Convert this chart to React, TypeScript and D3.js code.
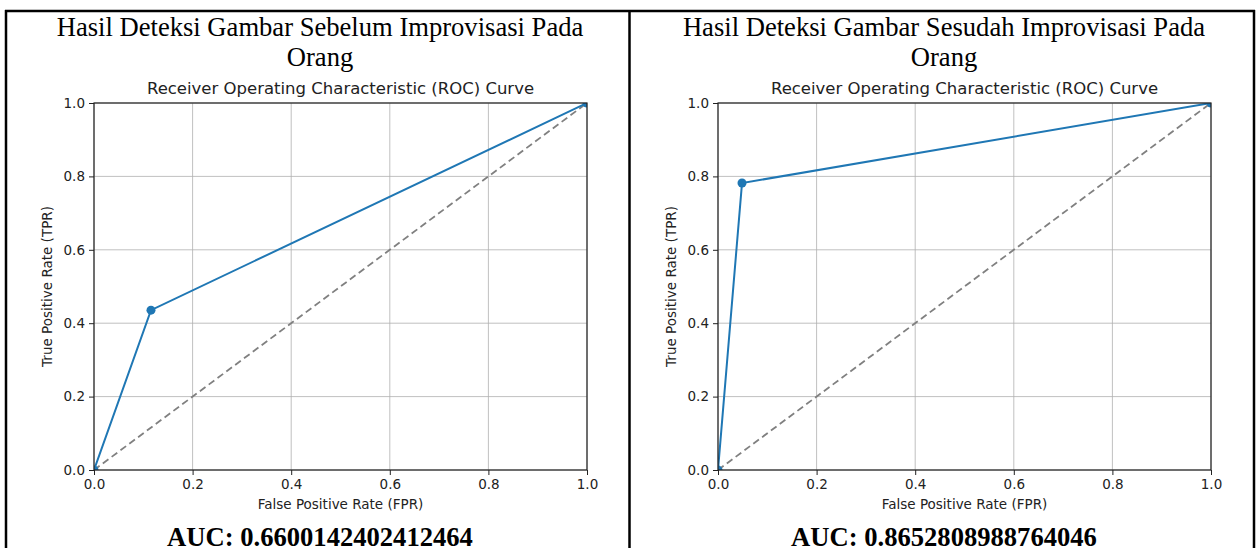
import * as d3 from "d3";
import { useEffect, useRef } from "react";

// panel titles / AUC captions
const panelTitles = [
  ["Hasil Deteksi Gambar Sebelum Improvisasi Pada", "Orang"],
  ["Hasil Deteksi Gambar Sesudah Improvisasi Pada", "Orang"],
];
const aucLabels = ["AUC: 0.6600142402412464", "AUC: 0.8652808988764046"];

// ROC points (fpr, tpr)
const fprBefore = [0, 0.1156, 1];
const tprBefore = [0, 0.4356, 1];
const fprAfter = [0, 0.0487, 1];
const tprAfter = [0, 0.7819, 1];

const ticks = [0, 0.2, 0.4, 0.6, 0.8, 1.0];

const W = 1258;
const H = 548;

export default function App() {
  const svgRef = useRef<SVGSVGElement | null>(null);

  useEffect(() => {
    const svg = d3.select(svgRef.current);
    svg.selectAll("*").remove();

    svg.append("rect").attr("width", W).attr("height", H).attr("fill", "#fff");

    // table borders
    const border = svg.append("g").attr("stroke", "#000").attr("stroke-width", 2.5);
    border.append("line").attr("x1", 5).attr("x2", 1255).attr("y1", 11).attr("y2", 11);
    border.append("line").attr("x1", 6).attr("x2", 6).attr("y1", 10).attr("y2", H);
    border.append("line").attr("x1", 629.5).attr("x2", 629.5).attr("y1", 10).attr("y2", H);
    border.append("line").attr("x1", 1254).attr("x2", 1254).attr("y1", 10).attr("y2", H);

    const panels = [
      { left: 94, fpr: fprBefore, tpr: tprBefore, cx: 320 },
      { left: 718, fpr: fprAfter, tpr: tprAfter, cx: 944 },
    ];

    panels.forEach((p, i) => {
      const x = d3.scaleLinear().domain([0, 1]).range([p.left, p.left + 493]);
      const y = d3.scaleLinear().domain([0, 1]).range([470, 103]);
      const g = svg.append("g");

      // headings
      g.append("text")
        .attr("x", p.cx).attr("y", 36)
        .attr("text-anchor", "middle")
        .attr("font-family", "Liberation Serif")
        .attr("font-size", 26.6)
        .text(panelTitles[i][0]);
      g.append("text")
        .attr("x", p.cx).attr("y", 66)
        .attr("text-anchor", "middle")
        .attr("font-family", "Liberation Serif")
        .attr("font-size", 26.6)
        .text(panelTitles[i][1]);
      g.append("text")
        .attr("x", (x(0) + x(1)) / 2).attr("y", 94)
        .attr("text-anchor", "middle")
        .attr("font-family", "DejaVu Sans")
        .attr("font-size", 16.5)
        .attr("fill", "#222")
        .text("Receiver Operating Characteristic (ROC) Curve");
      g.append("text")
        .attr("x", p.cx).attr("y", 546)
        .attr("text-anchor", "middle")
        .attr("font-family", "Liberation Serif")
        .attr("font-weight", "bold")
        .attr("font-size", 26.6)
        .text(aucLabels[i]);

      // grid
      const grid = g.append("g").attr("stroke", "#b0b0b0").attr("stroke-width", 0.8);
      ticks.forEach((t) => {
        grid.append("line").attr("x1", x(t)).attr("x2", x(t)).attr("y1", y(0)).attr("y2", y(1));
        grid.append("line").attr("x1", x(0)).attr("x2", x(1)).attr("y1", y(t)).attr("y2", y(t));
      });

      const clipId = `clip-${i}`;
      svg.append("clipPath").attr("id", clipId)
        .append("rect")
        .attr("x", x(0)).attr("y", y(1))
        .attr("width", x(1) - x(0)).attr("height", y(0) - y(1));

      const plot = g.append("g").attr("clip-path", `url(#${clipId})`);

      // chance line
      plot.append("line")
        .attr("x1", x(0)).attr("y1", y(0)).attr("x2", x(1)).attr("y2", y(1))
        .attr("stroke", "#808080").attr("stroke-width", 1.8)
        .attr("stroke-dasharray", "7,4");

      const pts = p.fpr.map((f, k) => [f, p.tpr[k]] as [number, number]);
      const line = d3.line<[number, number]>().x((d) => x(d[0])).y((d) => y(d[1]));
      plot.append("path")
        .datum(pts)
        .attr("fill", "none")
        .attr("stroke", "#1f77b4")
        .attr("stroke-width", 2)
        .attr("d", line);
      plot.selectAll("circle")
        .data(pts)
        .join("circle")
        .attr("cx", (d) => x(d[0]))
        .attr("cy", (d) => y(d[1]))
        .attr("r", 4.5)
        .attr("fill", "#1f77b4");

      // axes
      const xAxis = g.append("g")
        .attr("transform", `translate(0,${y(0)})`)
        .call(d3.axisBottom(x).tickValues(ticks).tickFormat(d3.format(".1f")).tickSize(5).tickPadding(4));
      const yAxis = g.append("g")
        .attr("transform", `translate(${x(0)},0)`)
        .call(d3.axisLeft(y).tickValues(ticks).tickFormat(d3.format(".1f")).tickSize(5).tickPadding(4));
      [xAxis, yAxis].forEach((a) => {
        a.select(".domain").remove();
        a.selectAll("text")
          .attr("font-family", "DejaVu Sans")
          .attr("font-size", 13.5)
          .attr("fill", "#222");
        a.selectAll("line").attr("stroke", "#222");
      });

      g.append("rect")
        .attr("x", x(0)).attr("y", y(1))
        .attr("width", x(1) - x(0)).attr("height", y(0) - y(1))
        .attr("fill", "none")
        .attr("stroke", "#222")
        .attr("stroke-width", 1.2);

      g.append("text")
        .attr("x", (x(0) + x(1)) / 2).attr("y", 509)
        .attr("text-anchor", "middle")
        .attr("font-family", "DejaVu Sans")
        .attr("font-size", 13.5)
        .attr("fill", "#222")
        .text("False Positive Rate (FPR)");
      g.append("text")
        .attr("transform", `translate(${p.left - 42},${(y(0) + y(1)) / 2}) rotate(-90)`)
        .attr("text-anchor", "middle")
        .attr("font-family", "DejaVu Sans")
        .attr("font-size", 13.5)
        .attr("fill", "#222")
        .text("True Positive Rate (TPR)");
    });
  }, []);

  return (
    <svg
      ref={svgRef}
      width={W}
      height={H}
      style={{ position: "absolute", left: 0, top: 0 }}
    ></svg>
  );
}
